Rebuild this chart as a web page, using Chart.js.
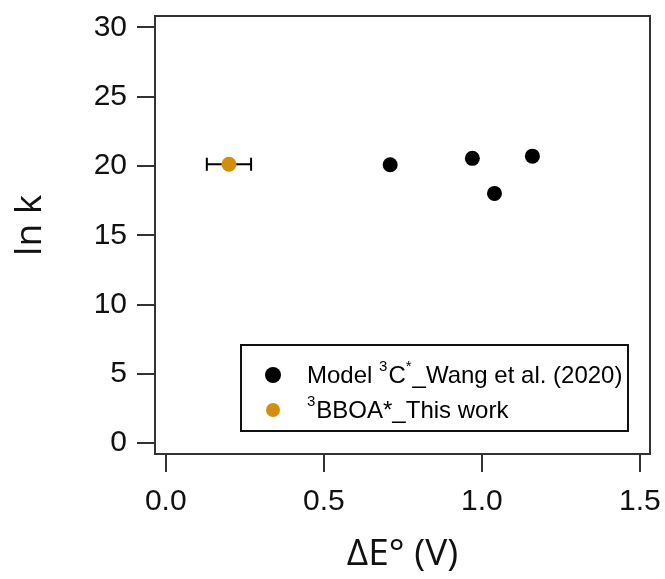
<!DOCTYPE html>
<html>
<head>
<meta charset="utf-8">
<script src="https://cdn.jsdelivr.net/npm/chart.js@4"></script>
<style>
  html, body { margin: 0; padding: 0; background: #fff; }
  #wrap { width: 665px; height: 579px; }
</style>
</head>
<body>
<div id="wrap"><canvas id="grafico" width="665" height="579"></canvas></div>
<script>
// valores
const modelX = [0.71, 0.97, 1.04, 1.16];
const modelY = [20.09, 20.55, 18.02, 20.71];
const bboaX = [0.20];
const bboaY = [20.12];
const bboaXErr = [0.07];
const xTicks = [0, 0.5, 1.0, 1.5];
const yTicks = [0, 5, 10, 15, 20, 25, 30];
const legendLabels = ['Model', 'BBOA'];

const corLaranja = '#D48E0E';
const corEixo = '#333333';

// barra de erro horizontal do ponto laranja
const errorBars = {
    id: 'errorBars',
    beforeDatasetsDraw(chart) {
        const ctx = chart.ctx;
        const x = chart.scales.x, y = chart.scales.y;
        ctx.save();
        ctx.strokeStyle = '#000';
        ctx.lineWidth = 2;
        bboaX.forEach((v, i) => {
            const x1 = x.getPixelForValue(v - bboaXErr[i]);
            const x2 = x.getPixelForValue(v + bboaXErr[i]);
            const py = y.getPixelForValue(bboaY[i]);
            ctx.beginPath();
            ctx.moveTo(x1, py); ctx.lineTo(x2, py);
            ctx.moveTo(x1, py - 6.5); ctx.lineTo(x1, py + 6.5);
            ctx.moveTo(x2, py - 6.5); ctx.lineTo(x2, py + 6.5);
            ctx.stroke();
        });
        ctx.restore();
    }
};

// moldura + legenda com sobrescritos
const moldura = {
    id: 'moldura',
    afterDraw(chart) {
        const ctx = chart.ctx;
        const a = chart.chartArea;
        ctx.save();
        ctx.strokeStyle = corEixo;
        ctx.lineWidth = 2;
        ctx.beginPath();
        ctx.moveTo(a.left, a.top); ctx.lineTo(a.right, a.top); ctx.lineTo(a.right, a.bottom);
        ctx.stroke();

        // caixa da legenda
        const bx = a.left + 86, by = a.bottom - 109;
        const bw = a.right - 22 - bx, bh = 86;
        ctx.fillStyle = '#fff';
        ctx.fillRect(bx, by, bw, bh);
        ctx.strokeStyle = '#111';
        ctx.strokeRect(bx, by, bw, bh);

        ctx.fillStyle = '#000';
        ctx.beginPath(); ctx.arc(bx + 32, by + 30, 8, 0, Math.PI * 2); ctx.fill();
        ctx.fillStyle = corLaranja;
        ctx.beginPath(); ctx.arc(bx + 32, by + 65, 7, 0, Math.PI * 2); ctx.fill();

        const fonte = '24px "Liberation Sans", Arial, sans-serif';
        const fonteSup = '15px "Liberation Sans", Arial, sans-serif';
        const escrever = (partes, x, yb) => {
            ctx.fillStyle = '#000';
            ctx.textBaseline = 'alphabetic';
            ctx.textAlign = 'left';
            for (const p of partes) {
                ctx.font = p.sup ? fonteSup : fonte;
                ctx.fillText(p.t, x, p.sup ? yb - 12 : yb);
                x += ctx.measureText(p.t).width + (p.sup ? 1 : 0);
            }
        };
        escrever([{ t: legendLabels[0] + ' ' }, { t: '3', sup: true }, { t: 'C' }, { t: '*', sup: true }, { t: '_Wang et al. (2020)' }], bx + 66, by + 38);
        escrever([{ t: '3', sup: true }, { t: legendLabels[1] + '*_This work' }], bx + 66, by + 73);
        ctx.restore();
    }
};

const fonteTicks = { family: '"Liberation Sans", Arial, sans-serif', size: 30 };
const fonteTitulo = { family: '"Open Sans", sans-serif', size: 37 };

// tira o recuo automático que o Chart.js põe por causa dos rótulos
function semRecuo(s) {
    s.paddingTop = 0; s.paddingBottom = 0; s.paddingLeft = 0; s.paddingRight = 0;
}

new Chart(document.getElementById('grafico'), {
    type: 'scatter',
    data: {
        datasets: [
            {
                label: 'Model 3C*_Wang et al. (2020)',
                data: modelX.map((v, i) => ({ x: v, y: modelY[i] })),
                backgroundColor: '#000',
                borderWidth: 0,
                pointRadius: 7.5
            },
            {
                label: '3BBOA*_This work',
                data: bboaX.map((v, i) => ({ x: v, y: bboaY[i] })),
                backgroundColor: corLaranja,
                borderWidth: 0,
                pointRadius: 7.5
            }
        ]
    },
    options: {
        responsive: false,
        animation: false,
        layout: { padding: { left: 0, top: 16, right: 15, bottom: 0 } },
        plugins: { legend: { display: false }, tooltip: { enabled: false } },
        scales: {
            x: {
                type: 'linear',
                min: -0.034,
                max: 1.532,
                afterBuildTicks: s => { s.ticks = xTicks.map(v => ({ value: v })); },
                afterFit: s => { s.height = 125; semRecuo(s); },
                ticks: {
                    font: fonteTicks,
                    color: '#111',
                    padding: 12,
                    maxRotation: 0,
                    callback: v => Number(v).toFixed(1)
                },
                grid: { drawOnChartArea: false, drawTicks: true, tickLength: 18, color: corEixo, lineWidth: 2 },
                border: { color: corEixo, width: 2 },
                title: { display: true, text: 'ΔE° (V)', font: fonteTitulo, color: '#111', padding: { top: 0, bottom: 2 } }
            },
            y: {
                type: 'linear',
                min: -0.78,
                max: 30.82,
                afterBuildTicks: s => { s.ticks = yTicks.map(v => ({ value: v })); },
                afterFit: s => { s.width = 155; semRecuo(s); },
                ticks: { font: fonteTicks, color: '#111', padding: 10 },
                grid: { drawOnChartArea: false, drawTicks: true, tickLength: 18, color: corEixo, lineWidth: 2 },
                border: { color: corEixo, width: 2 },
                // espaços à esquerda sobem o título uns pixels, como no original
                title: { display: true, text: '  ln k', font: fonteTitulo, color: '#111', padding: { top: 8, bottom: 0 } }
            }
        }
    },
    plugins: [errorBars, moldura]
});
</script>
</body>
</html>
